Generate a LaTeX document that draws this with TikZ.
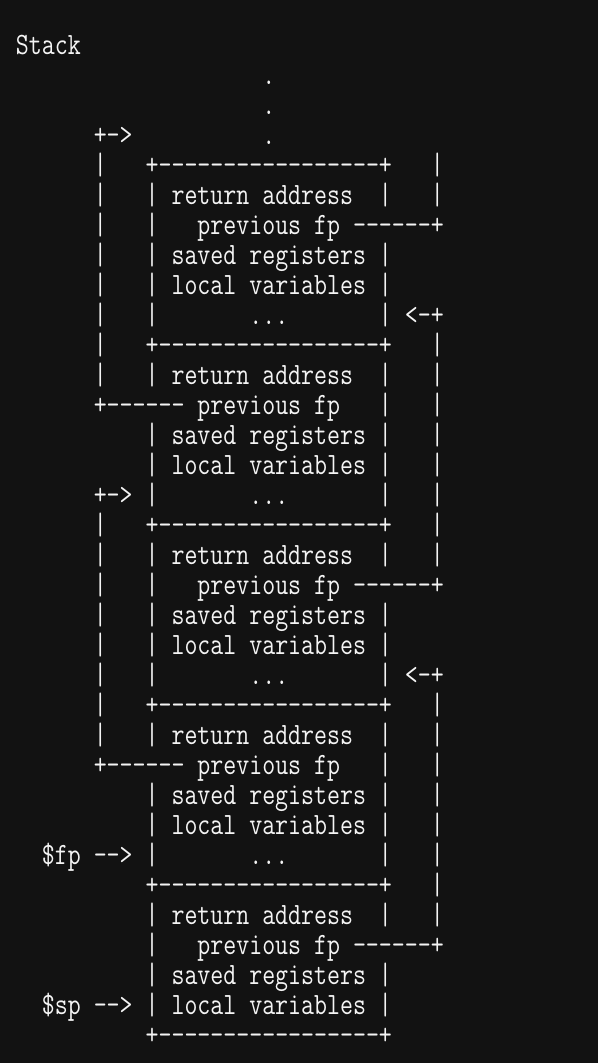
\documentclass[tikz,border=0pt]{standalone}
\usepackage{graphicx}
\definecolor{bgcol}{HTML}{121212}
\definecolor{fgcol}{HTML}{F4F4F4}
\newcommand{\dd}{-\kern0pt}
\newcommand{\sk}[1]{\hspace*{#1\fontcharwd\font`\M}}
\newcommand{\boxline}{+\dd\dd\dd\dd\dd\dd\dd\dd\dd\dd\dd\dd\dd\dd\dd\dd\dd+}
\newcommand{\six}{\dd\dd\dd\dd\dd\dd}
\newcommand{\asciiline}[2]{\node[txt] (l#1) at (16,{54+30*#1}) {\scalebox{0.812}[1]{\fontsize{31}{31}\selectfont\ttfamily #2}};}
\tikzset{txt/.style={anchor=base west, inner sep=0pt, outer sep=0pt, text=fgcol}}
\begin{document}
\begin{tikzpicture}[x=1pt,y=-1pt]
\fill[bgcol] (0,0) rectangle (598,1063);
\useasboundingbox (0,0) rectangle (598,1063);
\asciiline{0}{Stack}
\asciiline{1}{\sk{19}.}
\asciiline{2}{\sk{19}.}
\asciiline{3}{\sk{6}+\dd>\sk{10}.}
\asciiline{4}{\sk{6}|\sk{3}\boxline\sk{3}|}
\asciiline{5}{\sk{6}|\sk{3}|~return~address\sk{2}|\sk{3}|}
\asciiline{6}{\sk{6}|\sk{3}|\sk{3}previous~fp~\six+}
\asciiline{7}{\sk{6}|\sk{3}|~saved~registers~|}
\asciiline{8}{\sk{6}|\sk{3}|~local~variables~|}
\asciiline{9}{\sk{6}|\sk{3}|\sk{7}...\sk{7}|~<\dd+}
\asciiline{10}{\sk{6}|\sk{3}\boxline\sk{3}|}
\asciiline{11}{\sk{6}|\sk{3}|~return~address\sk{2}|\sk{3}|}
\asciiline{12}{\sk{6}+\six~previous~fp\sk{3}|\sk{3}|}
\asciiline{13}{\sk{10}|~saved~registers~|\sk{3}|}
\asciiline{14}{\sk{10}|~local~variables~|\sk{3}|}
\asciiline{15}{\sk{6}+\dd>~|\sk{7}...\sk{7}|\sk{3}|}
\asciiline{16}{\sk{6}|\sk{3}\boxline\sk{3}|}
\asciiline{17}{\sk{6}|\sk{3}|~return~address\sk{2}|\sk{3}|}
\asciiline{18}{\sk{6}|\sk{3}|\sk{3}previous~fp~\six+}
\asciiline{19}{\sk{6}|\sk{3}|~saved~registers~|}
\asciiline{20}{\sk{6}|\sk{3}|~local~variables~|}
\asciiline{21}{\sk{6}|\sk{3}|\sk{7}...\sk{7}|~<\dd+}
\asciiline{22}{\sk{6}|\sk{3}\boxline\sk{3}|}
\asciiline{23}{\sk{6}|\sk{3}|~return~address\sk{2}|\sk{3}|}
\asciiline{24}{\sk{6}+\six~previous~fp\sk{3}|\sk{3}|}
\asciiline{25}{\sk{10}|~saved~registers~|\sk{3}|}
\asciiline{26}{\sk{10}|~local~variables~|\sk{3}|}
\asciiline{27}{\sk{2}\$fp~\dd\dd>~|\sk{7}...\sk{7}|\sk{3}|}
\asciiline{28}{\sk{10}\boxline\sk{3}|}
\asciiline{29}{\sk{10}|~return~address\sk{2}|\sk{3}|}
\asciiline{30}{\sk{10}|\sk{3}previous~fp~\six+}
\asciiline{31}{\sk{10}|~saved~registers~|}
\asciiline{32}{\sk{2}\$sp~\dd\dd>~|~local~variables~|}
\asciiline{33}{\sk{10}\boxline}
\end{tikzpicture}
\end{document}
